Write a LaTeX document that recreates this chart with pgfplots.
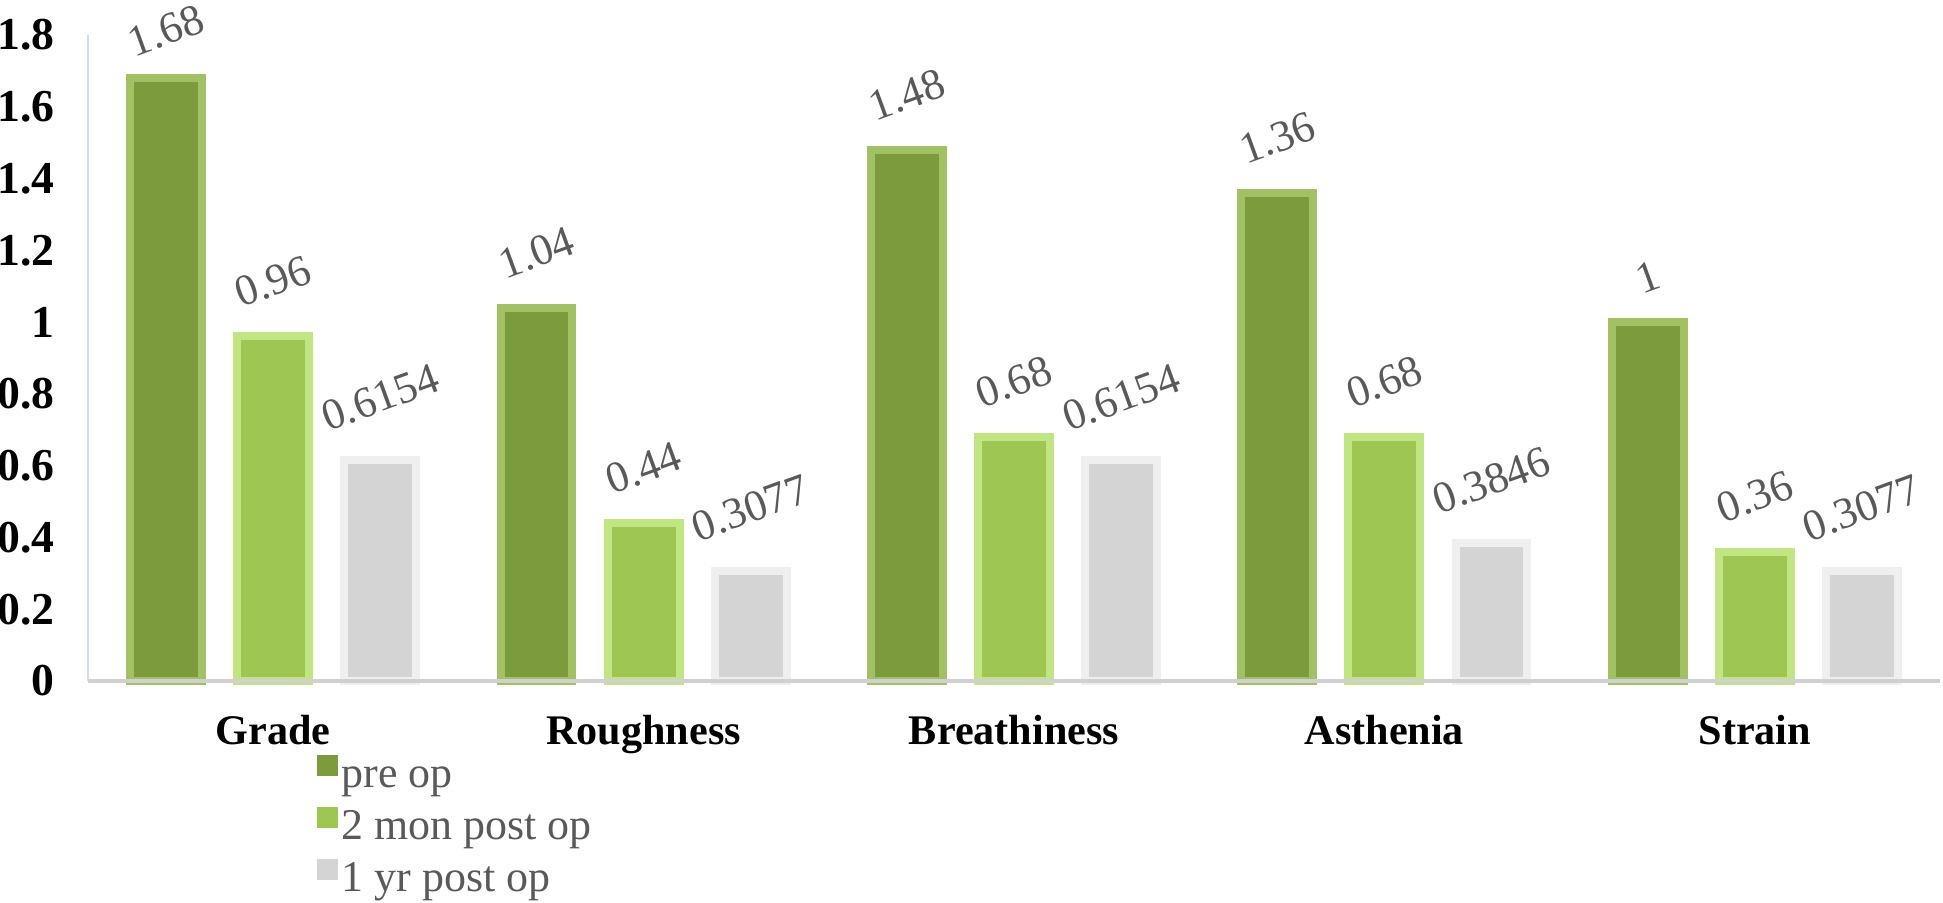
\documentclass[border=0pt]{standalone}
\usepackage{pgfplots}
\pgfplotsset{compat=1.18}
\usepackage{fontspec}
\setmainfont{Liberation Serif}
\definecolor{preC}{HTML}{7B9B3C}
\definecolor{preE}{HTML}{A2C064}
\definecolor{monC}{HTML}{9DC652}
\definecolor{monE}{HTML}{C2E584}
\definecolor{yrC}{HTML}{D4D4D4}
\definecolor{yrE}{HTML}{EFEFEF}
\definecolor{labgray}{HTML}{595959}
\definecolor{yline}{HTML}{D3DEEA}
\definecolor{xline}{HTML}{D0D0D0}
\begin{document}
\begin{tikzpicture}
\begin{axis}[
  at={(0,0)}, anchor=south west,
  scale only axis, width=185.2mm, height=64.6mm,
  xmin=-0.5, xmax=4.5, ymin=0, ymax=1.8,
  clip=false,
  axis line style={draw=none},
  tick style={draw=none},
  xtick={0,1,2,3,4},
  xticklabels={Grade,Roughness,Breathiness,Asthenia,Strain},
  ytick={0,0.2,0.4,0.6,0.8,1,1.2,1.4,1.6,1.8},
  yticklabels={0,0.2,0.4,0.6,0.8,1,1.2,1.4,1.6,1.8},
  yticklabel style={font=\bfseries\fontsize{13}{15}\selectfont, anchor=east, inner sep=0pt, xshift=-3.3mm},
  xticklabel style={font=\bfseries\fontsize{12}{14}\selectfont, anchor=base, inner sep=0pt, yshift=-6.3mm},
  every node near coord/.append style={font=\fontsize{12.5}{14}\selectfont, text=labgray, anchor=south, inner sep=0pt, yshift=2.4mm},
  legend cell align=left,
  legend image code/.code={\fill[#1, draw=none] (0mm,0mm) rectangle (2.1mm,2.1mm);},
  legend style={at={(0.1231,-0.1115)}, anchor=north west, draw=none, fill=none, inner sep=0pt,
    font=\fontsize{12.5}{15}\selectfont, text=labgray, row sep=0.8mm,
    nodes={inner sep=0pt, text height=3.4mm, text depth=1mm},
    /tikz/every odd column/.append style={column sep=0.4mm}},
]
\draw[yline, line width=0.6pt] (rel axis cs:0,0) -- (rel axis cs:0,1);

\addplot[ybar, bar width=0.194, bar shift=-0.289, fill=preC, draw=preE, line width=0.8mm,
  visualization depends on={rawy \as \rawy},
  every node near coord/.append style={xshift=-10.70mm, yshift={ifthenelse(\rawy>1.6,-2.2,0)}},
  point meta=explicit symbolic, nodes near coords={\rotatebox{20}{\pgfplotspointmeta}}]
  coordinates {(0,1.68)[1.68] (1,1.04)[1.04] (2,1.48)[1.48] (3,1.36)[1.36] (4,1)[1]};
\addlegendentry{pre op}
\addplot[ybar, bar width=0.194, bar shift=0, fill=monC, draw=monE, line width=0.8mm,
  point meta=explicit symbolic, nodes near coords={\rotatebox{20}{\pgfplotspointmeta}}]
  coordinates {(0,0.96)[0.96] (1,0.44)[0.44] (2,0.68)[0.68] (3,0.68)[0.68] (4,0.36)[0.36]};
\addlegendentry{2 mon post op}
\addplot[ybar, bar width=0.194, bar shift=0.289, fill=yrC, draw=yrE, line width=0.8mm,
  every node near coord/.append style={xshift=10.70mm},
  point meta=explicit symbolic, nodes near coords={\rotatebox{20}{\pgfplotspointmeta}}]
  coordinates {(0,0.6154)[0.6154] (1,0.3077)[0.3077] (2,0.6154)[0.6154] (3,0.3846)[0.3846] (4,0.3077)[0.3077]};
\addlegendentry{1 yr post op}

\draw[xline, line width=0.9pt] (rel axis cs:0,0) -- (rel axis cs:1,0);
\end{axis}
\pgfresetboundingbox
\path[use as bounding box] (-8.8mm,-22.1mm) rectangle (185.5mm,68.1mm);
\end{tikzpicture}
\end{document}
